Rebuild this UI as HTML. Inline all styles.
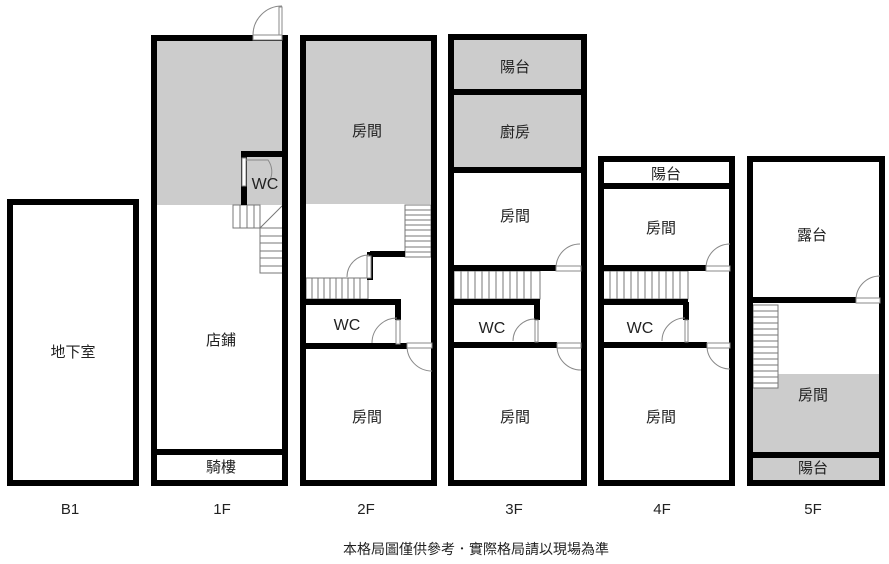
<!DOCTYPE html>
<html><head><meta charset="utf-8"><style>
html,body{margin:0;padding:0;background:#fff;}
svg{display:block;}
text{font-family:"Liberation Sans","Noto Sans CJK TC",sans-serif;fill:#222;}
</style></head><body>
<svg width="889" height="564" viewBox="0 0 889 564" xmlns="http://www.w3.org/2000/svg">
<g fill="#cccccc">
<rect x="157" y="41" width="125" height="164"/>
<rect x="306" y="41" width="125" height="163"/>
<rect x="454" y="40" width="127" height="49"/>
<rect x="454" y="95" width="127" height="72"/>
<rect x="753" y="374" width="126" height="78"/>
<rect x="753" y="458" width="126" height="22"/>
</g>
<g fill="#fff" stroke="#777" stroke-width="1">
<rect x="233" y="205" width="27" height="23"/>
<rect x="260" y="228" width="23" height="45"/>
<rect x="405" y="205" width="26" height="52"/>
<rect x="306" y="278" width="62" height="21"/>
<rect x="454" y="271" width="86" height="28"/>
<rect x="603" y="271" width="85" height="28"/>
<rect x="753" y="305" width="25" height="83"/>
</g>
<g stroke="#777" stroke-width="1">
<path d="M240 205v23M247 205v23M254 205v23M260 228L283 205M260 236h23M260 243h23M260 251h23M260 258h23M260 266h23"/>
<path d="M405 210h26M405 215h26M405 220h26M405 225h26M405 230h26M405 236h26M405 241h26M405 247h26M405 252h26"/>
<path d="M312 278v21M318 278v21M324 278v21M330 278v21M336 278v21M342 278v21M348 278v21M354 278v21M360 278v21"/>
<path d="M461 271v28M468 271v28M475 271v28M482 271v28M489 271v28M496 271v28M503 271v28M510 271v28M517 271v28M524 271v28M531 271v28"/>
<path d="M610 271v28M617 271v28M624 271v28M631 271v28M638 271v28M645 271v28M652 271v28M659 271v28M666 271v28M673 271v28M680 271v28"/>
<path d="M753 311h25M753 317h25M753 323h25M753 329h25M753 335h25M753 341h25M753 347h25M753 353h25M753 359h25M753 365h25M753 371h25M753 377h25M753 383h25"/>
</g>
<g fill="none" stroke="#000" stroke-width="6">
<rect x="10" y="202" width="126" height="281"/>
<rect x="154" y="38" width="131" height="445"/>
<rect x="303" y="38" width="131" height="445"/>
<rect x="451" y="37" width="133" height="446"/>
<rect x="601" y="159" width="131" height="324"/>
<rect x="750" y="159" width="132" height="324"/>
<path d="M154 452H285"/>
<path d="M241 154H285M244 154V205"/>
<path d="M370 252V280M370 254H405"/>
<path d="M303 302H401M398 302V320"/>
<path d="M303 346H407"/>
<path d="M451 92H584M451 170H584"/>
<path d="M451 268H556"/>
<path d="M451 302H540M537 302V320"/>
<path d="M451 345H557"/>
<path d="M601 186H732"/>
<path d="M601 268H706"/>
<path d="M601 302H688M686 302V320"/>
<path d="M601 345H707"/>
<path d="M750 300H856"/>
<path d="M750 455H882"/>
</g>
<g fill="#fff" stroke="#888" stroke-width="1">
<rect x="253" y="35" width="29" height="5"/>
<rect x="279" y="7" width="3" height="28"/>
<rect x="242" y="158" width="4" height="28"/>
<rect x="367" y="256" width="4" height="22"/>
<rect x="396" y="320" width="4" height="24"/>
<rect x="407" y="343" width="25" height="5"/>
<rect x="556" y="266" width="25" height="5"/>
<rect x="535" y="320" width="3" height="22"/>
<rect x="557" y="343" width="24" height="5"/>
<rect x="706" y="266" width="24" height="5"/>
<rect x="685" y="320" width="3" height="22"/>
<rect x="707" y="343" width="23" height="5"/>
<rect x="856" y="298" width="24" height="5"/>
</g>
<g fill="none" stroke="#888" stroke-width="1">
<path d="M253 35A29 29 0 0 1 282 6"/>
<path d="M246 160H268A20 20 0 0 1 270 180"/>
<path d="M347 277A22 22 0 0 1 369 255"/>
<path d="M372 343A25 25 0 0 1 397 318"/>
<path d="M407 346A25 25 0 0 0 432 371"/>
<path d="M556 268A24 24 0 0 1 580 244"/>
<path d="M513 341A22 22 0 0 1 535 319"/>
<path d="M557 346A24 24 0 0 0 581 370"/>
<path d="M706 268A24 24 0 0 1 730 244"/>
<path d="M662 341A23 23 0 0 1 685 318"/>
<path d="M707 346A23 23 0 0 0 730 369"/>
<path d="M856 300A24 24 0 0 1 880 276"/>
</g>
<g font-size="15" text-anchor="middle">
<text x="73" y="357">地下室</text>
<text x="221" y="345">店鋪</text>
<text x="221" y="472">騎樓</text>
<text x="367" y="136">房間</text>
<text x="367" y="422">房間</text>
<text x="515" y="72">陽台</text>
<text x="515" y="137">廚房</text>
<text x="515" y="221">房間</text>
<text x="515" y="422">房間</text>
<text x="666" y="179">陽台</text>
<text x="661" y="233">房間</text>
<text x="661" y="422">房間</text>
<text x="812" y="240">露台</text>
<text x="813" y="400">房間</text>
<text x="813" y="473">陽台</text>
</g>
<g font-size="16" text-anchor="middle">
<text x="265" y="189">WC</text>
<text x="347" y="330">WC</text>
<text x="492" y="333">WC</text>
<text x="640" y="333">WC</text>
</g>
<g font-size="15" text-anchor="middle">
<text x="70" y="514">B1</text>
<text x="222" y="514">1F</text>
<text x="366" y="514">2F</text>
<text x="514" y="514">3F</text>
<text x="662" y="514">4F</text>
<text x="813" y="514">5F</text>
</g>
<text x="476" y="554" font-size="14" text-anchor="middle">本格局圖僅供參考．實際格局請以現場為準</text>
</svg>
</body></html>
